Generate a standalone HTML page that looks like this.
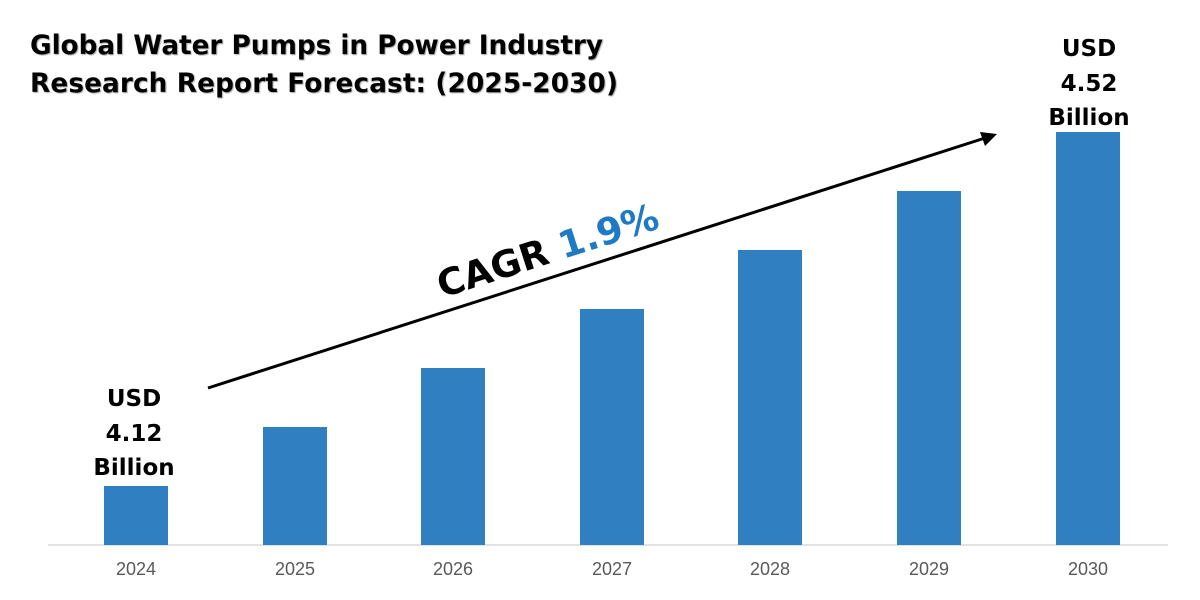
<!DOCTYPE html>
<html><head><style>body{margin:0;background:#fff}svg{display:block}</style></head><body>
<svg width="1200" height="600" xmlns="http://www.w3.org/2000/svg" font-family="'DejaVu Sans','Liberation Sans',sans-serif">
<rect width="1200" height="600" fill="#fff"/>
<g font-weight="bold" font-size="26.3" fill="#000" style="text-shadow:1px 1px 1px #aaa">
<text x="30" y="54" textLength="573">Global Water Pumps in Power Industry</text>
<text x="30" y="92" textLength="588">Research Report Forecast: (2025-2030)</text>
</g>
<line x1="48" y1="545" x2="1168" y2="545" stroke="#d9d9d9" stroke-width="1.5"/>
<g fill="#2f7fc1">
<rect x="104" y="486" width="64" height="59"/>
<rect x="263" y="427" width="64" height="118"/>
<rect x="421" y="368" width="64" height="177"/>
<rect x="580" y="309" width="64" height="236"/>
<rect x="738" y="250" width="64" height="295"/>
<rect x="897" y="191" width="64" height="354"/>
<rect x="1056" y="132" width="64" height="413"/>
</g>
<g font-size="18" fill="#595959" text-anchor="middle" font-family="'Liberation Sans',sans-serif">
<text x="136" y="575">2024</text><text x="295" y="575">2025</text><text x="453" y="575">2026</text>
<text x="612" y="575">2027</text><text x="770" y="575">2028</text><text x="929" y="575">2029</text><text x="1088" y="575">2030</text>
</g>
<g font-size="23" font-weight="bold" text-anchor="middle" fill="#000">
<text x="134" y="406">USD</text><text x="134" y="441">4.12</text><text x="134" y="475">Billion</text>
<text x="1089" y="56">USD</text><text x="1089" y="91">4.52</text><text x="1089" y="125">Billion</text>
</g>
<line x1="208" y1="388" x2="985" y2="138" stroke="#000" stroke-width="3"/>
<polygon points="997,134 980,132 985,146" fill="#000"/>
<text transform="translate(442,298) rotate(-17.8)" font-size="37" font-weight="bold" fill="#000">CAGR <tspan fill="#1f7ac4">1.9%</tspan></text>
</svg>
</body></html>
